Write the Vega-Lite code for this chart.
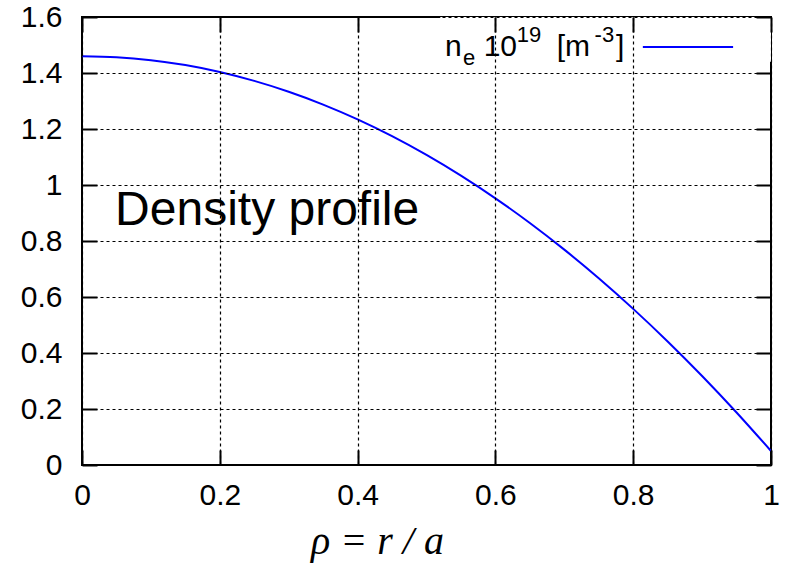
{
  "$schema": "https://vega.github.io/schema/vega-lite/v6.json",
  "width": 689,
  "height": 448,
  "autosize": "none",
  "padding": {"left": 82, "top": 17, "right": 16, "bottom": 99},
  "background": "white",
  "config": {
    "view": {"stroke": "black", "strokeWidth": 2},
    "font": "Liberation Sans"
  },
  "datasets": {
    "profile": [
      {"rho": 0.0, "ne": 1.46},
      {"rho": 0.05, "ne": 1.4565},
      {"rho": 0.1, "ne": 1.4459},
      {"rho": 0.15, "ne": 1.4283},
      {"rho": 0.2, "ne": 1.4036},
      {"rho": 0.25, "ne": 1.3719},
      {"rho": 0.3, "ne": 1.3331},
      {"rho": 0.35, "ne": 1.2873},
      {"rho": 0.4, "ne": 1.2344},
      {"rho": 0.45, "ne": 1.1745},
      {"rho": 0.5, "ne": 1.1075},
      {"rho": 0.55, "ne": 1.0335},
      {"rho": 0.6, "ne": 0.9524},
      {"rho": 0.65, "ne": 0.8643},
      {"rho": 0.7, "ne": 0.7691},
      {"rho": 0.75, "ne": 0.6669},
      {"rho": 0.8, "ne": 0.5576},
      {"rho": 0.85, "ne": 0.4413},
      {"rho": 0.9, "ne": 0.3179},
      {"rho": 0.95, "ne": 0.1875},
      {"rho": 1.0, "ne": 0.05}
    ],
    "keybox": [{"x1": 0.52, "x2": 1.0, "y1": 1.44, "y2": 1.6}],
    "keyline": [{"x1": 0.814, "x2": 0.945, "y": 1.493}],
    "keybig": [
      {"t": "n", "x": 0.527, "y": 1.461},
      {"t": "10", "x": 0.583, "y": 1.461},
      {"t": "[m", "x": 0.689, "y": 1.461},
      {"t": "]", "x": 0.775, "y": 1.461}
    ],
    "keysmall": [
      {"t": "e", "x": 0.553, "y": 1.429},
      {"t": "19", "x": 0.631, "y": 1.509},
      {"t": "-3", "x": 0.744, "y": 1.509}
    ],
    "note": [{"t": "Density profile", "x": 0.048, "y": 0.857}]
  },
  "resolve": {"axis": {"x": "independent", "y": "independent"}},
  "layer": [
    {
      "data": {"name": "keybox"},
      "mark": {"type": "rect", "fill": "white", "stroke": null},
      "encoding": {
        "x": {"field": "x1", "type": "quantitative", "scale": {"domain": [0, 1], "nice": false},
          "axis": {"orient": "top", "values": [0, 0.2, 0.4, 0.6, 0.8, 1], "labels": false, "grid": false, "domain": false, "offset": -15, "tickSize": 15, "tickWidth": 2, "tickColor": "black", "title": null, "zindex": 1}},
        "x2": {"field": "x2"},
        "y": {"field": "y1", "type": "quantitative", "scale": {"domain": [0, 1.6], "nice": false},
          "axis": {"orient": "right", "values": [0, 0.2, 0.4, 0.6, 0.8, 1, 1.2, 1.4, 1.6], "labels": false, "grid": false, "domain": false, "offset": -15, "tickSize": 15, "tickWidth": 2, "tickColor": "black", "title": null, "zindex": 1}},
        "y2": {"field": "y2"}
      }
    },
    {
      "data": {"name": "profile"},
      "mark": {"type": "line", "color": "#0000ff", "strokeWidth": 2, "interpolate": "monotone"},
      "encoding": {
        "x": {"field": "rho", "type": "quantitative", "scale": {"domain": [0, 1], "nice": false},
          "axis": {"orient": "bottom", "values": [0, 0.2, 0.4, 0.6, 0.8, 1], "format": ".1~f", "grid": true, "gridColor": "black", "gridDash": [3, 3], "gridWidth": 1.2, "gridOpacity": 1, "domain": false, "offset": -15, "tickSize": 15, "tickWidth": 2, "tickColor": "black", "labelPadding": 15, "labelDx": 5, "labelFont": "Liberation Sans", "labelFontSize": 30, "labelColor": "black", "labelFlush": false, "title": "ρ = r / a", "titleFont": "Liberation Serif", "titleFontStyle": "italic", "titleFontWeight": "normal", "titleFontSize": 40, "titleColor": "black", "titleBaseline": "alphabetic", "titleAlign": "center", "titleX": 295, "titleY": 103, "zindex": 1}},
        "y": {"field": "ne", "type": "quantitative", "scale": {"domain": [0, 1.6], "nice": false},
          "axis": {"orient": "left", "values": [0, 0.2, 0.4, 0.6, 0.8, 1, 1.2, 1.4, 1.6], "format": ".1~f", "grid": true, "gridColor": "black", "gridDash": [3, 3], "gridWidth": 1.2, "gridOpacity": 1, "domain": false, "offset": -15, "tickSize": 15, "tickWidth": 2, "tickColor": "black", "labelPadding": 20, "labelFont": "Liberation Sans", "labelFontSize": 30, "labelColor": "black", "labelFlush": false, "title": null, "zindex": 1}}
      }
    },
    {
      "data": {"name": "keyline"},
      "mark": {"type": "rule", "color": "#0000ff", "strokeWidth": 2},
      "encoding": {
        "x": {"field": "x1", "type": "quantitative", "scale": {"domain": [0, 1], "nice": false}, "axis": null},
        "x2": {"field": "x2"},
        "y": {"field": "y", "type": "quantitative", "scale": {"domain": [0, 1.6], "nice": false}, "axis": null}
      }
    },
    {
      "data": {"name": "keybig"},
      "mark": {"type": "text", "font": "Liberation Sans", "fontSize": 30, "align": "left", "baseline": "alphabetic", "color": "black"},
      "encoding": {
        "x": {"field": "x", "type": "quantitative", "scale": {"domain": [0, 1], "nice": false}, "axis": null},
        "y": {"field": "y", "type": "quantitative", "scale": {"domain": [0, 1.6], "nice": false}, "axis": null},
        "text": {"field": "t"}
      }
    },
    {
      "data": {"name": "keysmall"},
      "mark": {"type": "text", "font": "Liberation Sans", "fontSize": 22, "align": "left", "baseline": "alphabetic", "color": "black"},
      "encoding": {
        "x": {"field": "x", "type": "quantitative", "scale": {"domain": [0, 1], "nice": false}, "axis": null},
        "y": {"field": "y", "type": "quantitative", "scale": {"domain": [0, 1.6], "nice": false}, "axis": null},
        "text": {"field": "t"}
      }
    },
    {
      "data": {"name": "note"},
      "mark": {"type": "text", "font": "Liberation Sans", "fontSize": 48, "align": "left", "baseline": "alphabetic", "color": "black"},
      "encoding": {
        "x": {"field": "x", "type": "quantitative", "scale": {"domain": [0, 1], "nice": false}, "axis": null},
        "y": {"field": "y", "type": "quantitative", "scale": {"domain": [0, 1.6], "nice": false}, "axis": null},
        "text": {"field": "t"}
      }
    }
  ]
}
